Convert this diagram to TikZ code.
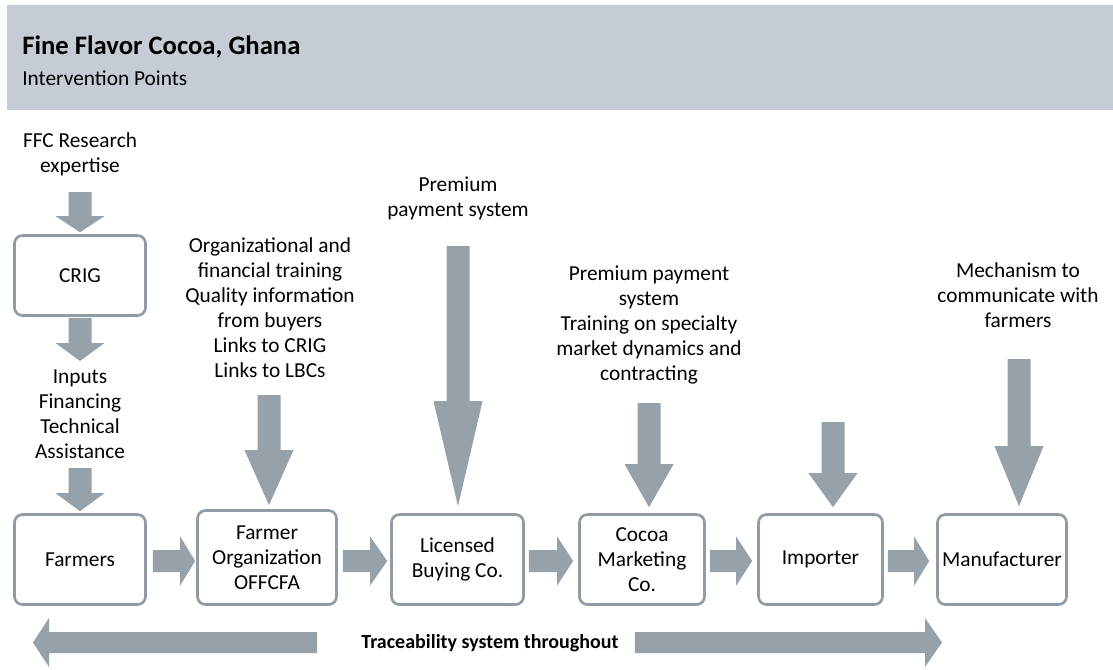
\documentclass[tikz,border=0pt]{standalone}
\usepackage{fontspec}
\setmainfont{Carlito}
\usetikzlibrary{calc}

\definecolor{bandgray}{RGB}{197,204,212}
\definecolor{flowgray}{RGB}{151,161,170}
\definecolor{edgegray}{RGB}{145,155,164}

\newcommand\bodyfont{\fontsize{16}{18.75}\selectfont}

\tikzset{
  % block arrow drawn as a filled polygon from start to tip
  shaftpx/.code={\pgfmathsetlengthmacro\swid{#1*0.75pt}},
  headwpx/.code={\pgfmathsetlengthmacro\hwid{#1*0.75pt}},
  headpx/.code={\pgfmathsetlengthmacro\hlen{#1*0.75pt}},
  shaftpx=11.5, headwpx=24.5, headpx=16,
  blockarrow/.style={fill=flowgray, draw=none, to path={
    -- ($(\tikztostart)!\swid!90:(\tikztotarget)$)
    -- ($($(\tikztotarget)!\hlen!(\tikztostart)$)!\swid!-90:(\tikztostart)$)
    -- ($($(\tikztotarget)!\hlen!(\tikztostart)$)!\hwid!-90:(\tikztostart)$)
    -- (\tikztotarget)
    -- ($($(\tikztotarget)!\hlen!(\tikztostart)$)!\hwid!90:(\tikztostart)$)
    -- ($($(\tikztotarget)!\hlen!(\tikztostart)$)!\swid!90:(\tikztostart)$)
    -- ($(\tikztostart)!\swid!-90:(\tikztotarget)$)
    -- cycle}},
  stagebox/.style={draw=edgegray, line width=2pt, rounded corners=6pt,
    fill=white, align=center, inner sep=2pt, font=\bodyfont},
  boxsize/.style 2 args={minimum width=#1*0.75pt, minimum height=#2*0.75pt},
  % multi-line notes are placed by the baseline of their last line
  note/.style={anchor=base, align=center, inner sep=0pt, font=\bodyfont},
}

\begin{document}
\begin{tikzpicture}[x=0.75pt, y=-0.75pt]
\useasboundingbox (0,0) rectangle (1113,669);

% header band
\fill[bandgray] (7,5) rectangle (1113,110);
\node[anchor=base west, inner sep=0pt, font=\fontsize{20}{24}\selectfont\bfseries]
  (title) at (22,54) {Fine Flavor Cocoa, Ghana};
\node[anchor=base west, inner sep=0pt, font=\bodyfont]
  (subtitle) at (22,85) {Intervention Points};

% value chain stages
\node[stagebox, boxsize={131}{80}] (crig) at (80,275.5) {CRIG};
\node[stagebox, boxsize={131}{90}] (farmers) at (80,559.5) {Farmers};
\node[stagebox, boxsize={139}{94}] (fo) at (267,557.5) {Farmer\\Organization\\OFFCFA};
\node[stagebox, boxsize={132}{90}] (lb) at (457.5,559.5) {Licensed\\Buying Co.};
\node[stagebox, boxsize={125}{90}] (cmc) at (642,559.5) {Cocoa\\Marketing\\Co.};
\node[stagebox, boxsize={124}{90}] (imp) at (820.5,559.5) {Importer};
\node[stagebox, boxsize={129}{90}] (mfr) at (1002,559.5) {Manufacturer};

% intervention texts
\node[note] (ffc) at (80,172) {FFC Research\\expertise};
\node[note] (inputs) at (80,458) {Inputs\\Financing\\Technical\\Assistance};
\node[note] (orgtrain) at (270,377) {Organizational and\\financial training\\Quality information\\from buyers\\Links to CRIG\\Links to LBCs};
\node[note] (lbpay) at (458,216) {Premium\\payment system};
\node[note] (cmctrain) at (649,380) {Premium payment\\system\\Training on specialty\\market dynamics and\\contracting};
\node[note] (mfrcomm) at (1018,327) {Mechanism to\\communicate with\\farmers};
\node[anchor=base, inner sep=0pt, font=\fontsize{15}{18}\selectfont\bfseries]
  (trace) at (490,648) {Traceability system throughout};

% arrow end points
\coordinate (v1s) at (80,192);
\coordinate (v1t) at ($(crig.north)+(0,-2)$);
\coordinate (v2s) at ($(crig.south)+(0,1)$);
\coordinate (v2t) at (80,361);
\coordinate (v3s) at (80,468);
\coordinate (v3t) at ($(farmers.north)+(0,-2)$);
\coordinate (v4s) at (269,395);
\coordinate (v4t) at ($(fo.north)+(2,-4)$);
\coordinate (v5s) at (458,246);
\coordinate (v5t) at ($(lb.north)+(0.5,-7)$);
\coordinate (v6s) at (649,403);
\coordinate (v6t) at ($(cmc.north)+(7,-6)$);
\coordinate (v7s) at (833,422);
\coordinate (v7t) at ($(imp.north)+(12.5,-6)$);
\coordinate (v8s) at (1019,359);
\coordinate (v8t) at ($(mfr.north)+(17,-7)$);

\coordinate (h1s) at ($(farmers.east)+(6,1.5)$);
\coordinate (h1t) at ($(fo.west)+(-1,3.5)$);
\coordinate (h2s) at ($(fo.east)+(5,3.5)$);
\coordinate (h2t) at ($(lb.west)+(-3,1.5)$);
\coordinate (h3s) at ($(lb.east)+(4,1.5)$);
\coordinate (h3t) at ($(cmc.west)+(-5,1.5)$);
\coordinate (h4s) at ($(cmc.east)+(4,1.5)$);
\coordinate (h4t) at ($(imp.west)+(-5,1.5)$);
\coordinate (h5s) at ($(imp.east)+(4,1.5)$);
\coordinate (h5t) at ($(mfr.west)+(-7,1.5)$);

\coordinate (backt) at (33,642.5);
\coordinate (fwdt) at (942,642.5);
\coordinate (tw) at ($(trace.west)+(-44,0)$);
\coordinate (te) at ($(trace.east)+(16,0)$);
\coordinate (backs) at (tw |- backt);
\coordinate (fwds) at (te |- fwdt);

% vertical intervention arrows
\path[blockarrow, headpx=16] (v1s) to (v1t);
\path[blockarrow, headpx=18] (v2s) to (v2t);
\path[blockarrow, headpx=18] (v3s) to (v3t);
\path[blockarrow, headpx=55] (v4s) to (v4t);
\path[blockarrow, headpx=105] (v5s) to (v5t);
\path[blockarrow, headpx=43] (v6s) to (v6t);
\path[blockarrow, headpx=34] (v7s) to (v7t);
\path[blockarrow, headpx=60] (v8s) to (v8t);

% flow between stages
\path[blockarrow, shaftpx=11, headpx=15] (h1s) to (h1t);
\path[blockarrow, shaftpx=11, headpx=17] (h2s) to (h2t);
\path[blockarrow, shaftpx=11, headpx=16] (h3s) to (h3t);
\path[blockarrow, shaftpx=11, headpx=16] (h4s) to (h4t);
\path[blockarrow, shaftpx=11, headpx=15] (h5s) to (h5t);

% traceability in both directions
\path[blockarrow, shaftpx=10.5, headpx=16] (backs) to (backt);
\path[blockarrow, shaftpx=10.5, headpx=17] (fwds) to (fwdt);
\end{tikzpicture}
\end{document}
